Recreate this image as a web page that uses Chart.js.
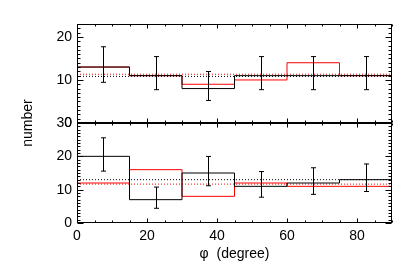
<!DOCTYPE html>
<html>
<head>
<meta charset="utf-8">
<script src="https://cdn.jsdelivr.net/npm/chart.js@4.4.1/dist/chart.umd.min.js"></script>
<style>
    html, body { margin: 0; padding: 0; background: #fff; }
    #wrap { position: relative; width: 415px; height: 272px; }
    #wrap canvas { position: absolute; left: 0; top: 0; }
</style>
</head>
<body>
<div id="wrap">
    <canvas id="topPanel" width="415" height="272"></canvas>
    <canvas id="bottomPanel" width="415" height="272"></canvas>
</div>
<script>
// bins of 15 degrees
const binEdges = [0, 15, 30, 45, 60, 75, 90];
const binCenters = [7.5, 22.5, 37.5, 52.5, 67.5, 82.5];

// upper panel
const topBlack = [13, 11, 8, 11, 11, 11];
const topRed = [13, 11, 9, 10, 14, 11];
const topErrLow = [9.45, 7.74, 5.24, 7.74, 7.74, 7.74];
const topErrHigh = [17.71, 15.43, 11.96, 15.43, 15.43, 15.43];
const topMeanBlack = 10.83;
const topMeanRed = 11.33;

// lower panel
const bottomBlack = [20, 7, 15, 11, 12, 13];
const bottomRed = [12, 16, 8, 12, 11, 11];
const bottomErrLow = [15.57, 4.42, 11.17, 7.74, 8.59, 9.45];
const bottomErrHigh = [25.56, 10.78, 19.97, 15.43, 16.57, 17.71];
const bottomMeanBlack = 13;
const bottomMeanRed = 11.67;

const xTicks = [0, 20, 40, 60, 80];
const topYTicks = [0, 10, 20];
const bottomYTicks = [0, 10, 20, 30];

const FONT = "'Liberation Sans', Arial, sans-serif";

function stepPoints(values) {
    const pts = values.map((v, i) => ({ x: binEdges[i], y: v }));
    pts.push({ x: binEdges[binEdges.length - 1], y: values[values.length - 1] });
    return pts;
}

function meanLine(value) {
    return [{ x: binEdges[0], y: value }, { x: binEdges[binEdges.length - 1], y: value }];
}

// IDL-like box with inward ticks on all four sides, and error bars
const boxPlugin = {
    id: "box",
    afterDatasetsDraw: function (chart) {
        const opts = chart.options.plugins.box;
        const ctx = chart.ctx;
        const xs = chart.scales.x;
        const ys = chart.scales.y;
        ctx.save();
        ctx.strokeStyle = "#000";
        ctx.lineWidth = 1;
        ctx.beginPath();
        opts.centers.forEach((c, i) => {
            const px = Math.round(xs.getPixelForValue(c)) + 0.5;
            const lo = ys.getPixelForValue(opts.low[i]);
            const hi = ys.getPixelForValue(opts.high[i]);
            ctx.moveTo(px, lo);
            ctx.lineTo(px, hi);
            ctx.moveTo(px - 2.5, lo);
            ctx.lineTo(px + 2.5, lo);
            ctx.moveTo(px - 2.5, hi);
            ctx.lineTo(px + 2.5, hi);
        });
        ctx.stroke();
        ctx.restore();
    },
    afterDraw: function (chart) {
        const opts = chart.options.plugins.box;
        const ctx = chart.ctx;
        const a = chart.chartArea;
        const xs = chart.scales.x;
        const ys = chart.scales.y;
        ctx.save();
        ctx.strokeStyle = "#000";
        ctx.lineWidth = 1;
        const L = Math.round(a.left) + 0.5, R = Math.round(a.right) - 0.5;
        const T = Math.round(a.top) + 0.5, B = Math.round(a.bottom) - 0.5;
        ctx.strokeRect(L, T, R - L, B - T);
        ctx.beginPath();
        for (let v = xs.min; v <= xs.max; v += 5) {
            const px = Math.round(xs.getPixelForValue(v)) + 0.5;
            const len = v % 20 === 0 ? 4 : 2;
            ctx.moveTo(px, B); ctx.lineTo(px, B - len);
            ctx.moveTo(px, T); ctx.lineTo(px, T + len);
        }
        for (let v = ys.min; v <= ys.max; v += 1) {
            const py = Math.round(ys.getPixelForValue(v)) + 0.5;
            const len = v % 10 === 0 ? 6 : 3;
            ctx.moveTo(L, py); ctx.lineTo(L + len, py);
            ctx.moveTo(R, py); ctx.lineTo(R - len, py);
        }
        ctx.stroke();
        if (opts.yTitle) {
            ctx.fillStyle = "#000";
            ctx.font = "14px " + FONT;
            ctx.textAlign = "center";
            ctx.textBaseline = "middle";
            ctx.translate(28, a.top);
            ctx.rotate(-Math.PI / 2);
            ctx.fillText(opts.yTitle, 0, 0);
        }
        ctx.restore();
    }
};

function makePanel(canvasId, black, red, meanBlack, meanRed, low, high, yMax, yTicks, isBottom) {
    const ctx = document.getElementById(canvasId).getContext("2d");
    return new Chart(ctx, {
        type: "line",
        data: {
            datasets: [
                { data: stepPoints(black), borderColor: "#000", borderWidth: 1, stepped: true, pointRadius: 0, fill: false },
                { data: stepPoints(red), borderColor: "#ff0000", borderWidth: 1, stepped: true, pointRadius: 0, fill: false },
                { data: meanLine(meanBlack), borderColor: "#000", borderWidth: 1, borderDash: [1, 2], pointRadius: 0, fill: false },
                { data: meanLine(meanRed), borderColor: "#ff0000", borderWidth: 1, borderDash: [1, 2], pointRadius: 0, fill: false },
            ],
        },
        options: {
            responsive: false,
            animation: false,
            devicePixelRatio: 1,
            layout: {
                padding: isBottom ? { left: 0, right: 23, top: 123, bottom: 0 } : { left: 0, right: 23, top: 24, bottom: 149 },
            },
            scales: {
                x: {
                    type: "linear",
                    min: 0,
                    max: 90,
                    display: isBottom,
                    grid: { display: false, drawTicks: false },
                    border: { display: false },
                    afterBuildTicks: function (scale) {
                        scale.ticks = xTicks.map(v => ({ value: v }));
                    },
                    afterFit: function (scale) {
                        scale.height = isBottom ? 49 : 0;
                    },
                    ticks: {
                        color: "#000",
                        padding: 5,
                        maxRotation: 0,
                        font: { family: FONT, size: 14 },
                    },
                    title: {
                        display: true,
                        text: "\u03c6  (degree)",
                        color: "#000",
                        font: { family: FONT, size: 14 },
                        padding: { top: 0, bottom: 9 },
                    },
                },
                y: {
                    type: "linear",
                    min: 0,
                    max: yMax,
                    grid: { display: false, drawTicks: false },
                    border: { display: false },
                    afterBuildTicks: function (scale) {
                        scale.ticks = yTicks.map(v => ({ value: v }));
                    },
                    afterFit: function (scale) {
                        scale.width = 77;
                    },
                    ticks: {
                        color: "#000",
                        padding: 5,
                        font: { family: FONT, size: 14 },
                    },
                },
            },
            plugins: {
                legend: { display: false },
                tooltip: { enabled: false },
                box: {
                    centers: binCenters,
                    low: low,
                    high: high,
                    yTitle: isBottom ? "number" : null,
                },
            },
        },
        plugins: [boxPlugin],
    });
}

makePanel("topPanel", topBlack, topRed, topMeanBlack, topMeanRed, topErrLow, topErrHigh, 23, topYTicks, false);
makePanel("bottomPanel", bottomBlack, bottomRed, bottomMeanBlack, bottomMeanRed, bottomErrLow, bottomErrHigh, 30, bottomYTicks, true);
</script>
</body>
</html>
